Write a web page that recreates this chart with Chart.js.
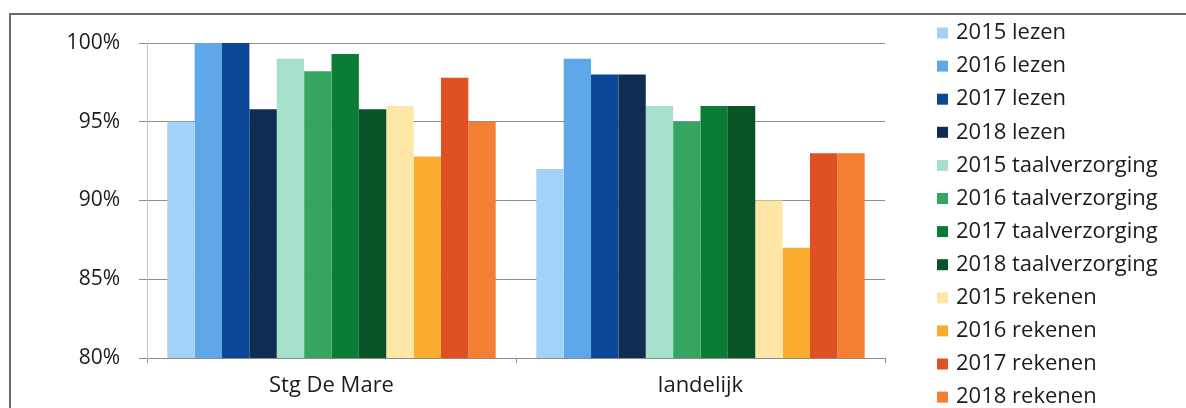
<!DOCTYPE html>
<html lang="nl">
<head>
    <meta charset="UTF-8">
    <title>Referentieniveaus</title>
    <script src="https://cdn.jsdelivr.net/npm/chart.js"></script>
    <style>
        html, body { margin: 0; padding: 0; background: #fff; }
        #wrap { width: 1186px; height: 408px; }
    </style>
</head>
<body>
<div id="wrap"><canvas id="niveauChart" width="1186" height="408"></canvas></div>

<script>
    // categories on the x axis
    const categories = ['Stg De Mare', 'landelijk'];
    const years = ['2015', '2016', '2017', '2018'];

    // percentage per year: [Stg De Mare, landelijk]
    const lezen = [[95, 92], [100, 99], [100, 98], [95.8, 98]];
    const taalverzorging = [[99, 96], [98.2, 95], [99.3, 96], [95.8, 96]];
    const rekenen = [[96, 90], [92.8, 87], [97.8, 93], [95, 93]];

    const yTicks = [80, 85, 90, 95, 100];

    const colors = {
        lezen: ['#a3d2f6', '#5ea8ea', '#0b4796', '#0f2d52'],
        taalverzorging: ['#a6e0cb', '#35a562', '#0b7c36', '#0a5227'],
        rekenen: ['#fde6a6', '#fbab2e', '#df5022', '#f47f33']
    };

    const subjects = { lezen, taalverzorging, rekenen };
    const datasets = [];
    Object.keys(subjects).forEach(name => {
        years.forEach((year, i) => {
            datasets.push({
                label: year + ' ' + name,
                data: subjects[name][i],
                backgroundColor: colors[name][i],
                borderWidth: 0
            });
        });
    });

    const textColor = '#1c1c1c';
    const fontFamily = '"Open Sans", sans-serif';
    const fontWeight = 500;

    // frame around the whole chart
    const framePlugin = {
        id: 'frame',
        beforeDraw(chart) {
            const ctx = chart.ctx;
            ctx.save();
            ctx.fillStyle = '#fff';
            ctx.fillRect(0, 0, chart.width, chart.height);
            ctx.strokeStyle = '#6b6b6b';
            ctx.lineWidth = 2;
            ctx.beginPath();
            ctx.moveTo(10, chart.height);
            ctx.lineTo(10, 14);
            ctx.lineTo(chart.width, 14);
            ctx.stroke();
            ctx.restore();
        }
    };

    // legend as a single column on the right
    const sideLegend = {
        id: 'sideLegend',
        afterDraw(chart, args, opts) {
            const ctx = chart.ctx;
            ctx.save();
            ctx.font = fontWeight + ' ' + opts.fontSize + 'px ' + fontFamily;
            ctx.textBaseline = 'middle';
            ctx.textAlign = 'left';
            chart.data.datasets.forEach((ds, i) => {
                const y = opts.top + i * opts.step;
                ctx.fillStyle = ds.backgroundColor;
                ctx.fillRect(opts.x, y - opts.box / 2, opts.box, opts.box);
                ctx.fillStyle = textColor;
                ctx.fillText(ds.label, opts.x + opts.box + 8, y);
            });
            ctx.restore();
        }
    };

    new Chart(document.getElementById('niveauChart'), {
        type: 'bar',
        data: { labels: categories, datasets },
        options: {
            responsive: false,
            animation: false,
            layout: { padding: { left: 0, top: 43, right: 301, bottom: 0 } },
            datasets: {
                bar: { categoryPercentage: 0.89, barPercentage: 1 }
            },
            plugins: {
                legend: { display: false },
                tooltip: { enabled: false },
                sideLegend: { x: 937, top: 33, step: 33.1, box: 11, fontSize: 22 }
            },
            scales: {
                x: {
                    afterFit(scale) { scale.height = 50; },
                    grid: {
                        display: true,
                        drawOnChartArea: false,
                        offset: true,
                        tickLength: 5,
                        color: '#8a8a8a'
                    },
                    border: { color: '#8a8a8a' },
                    ticks: {
                        padding: 10,
                        color: textColor,
                        font: { family: fontFamily, size: 22, weight: fontWeight }
                    }
                },
                y: {
                    min: 80,
                    max: 100,
                    afterFit(scale) { scale.width = 147; },
                    afterBuildTicks(scale) {
                        scale.ticks = yTicks.map(v => ({ value: v }));
                    },
                    grid: { color: '#8e8e8e', tickLength: 8 },
                    border: { color: '#c4c4c4' },
                    ticks: {
                        padding: 19,
                        color: textColor,
                        font: { family: fontFamily, size: 21, weight: fontWeight },
                        callback: v => v + '%'
                    }
                }
            }
        },
        plugins: [framePlugin, sideLegend]
    });
</script>
</body>
</html>
